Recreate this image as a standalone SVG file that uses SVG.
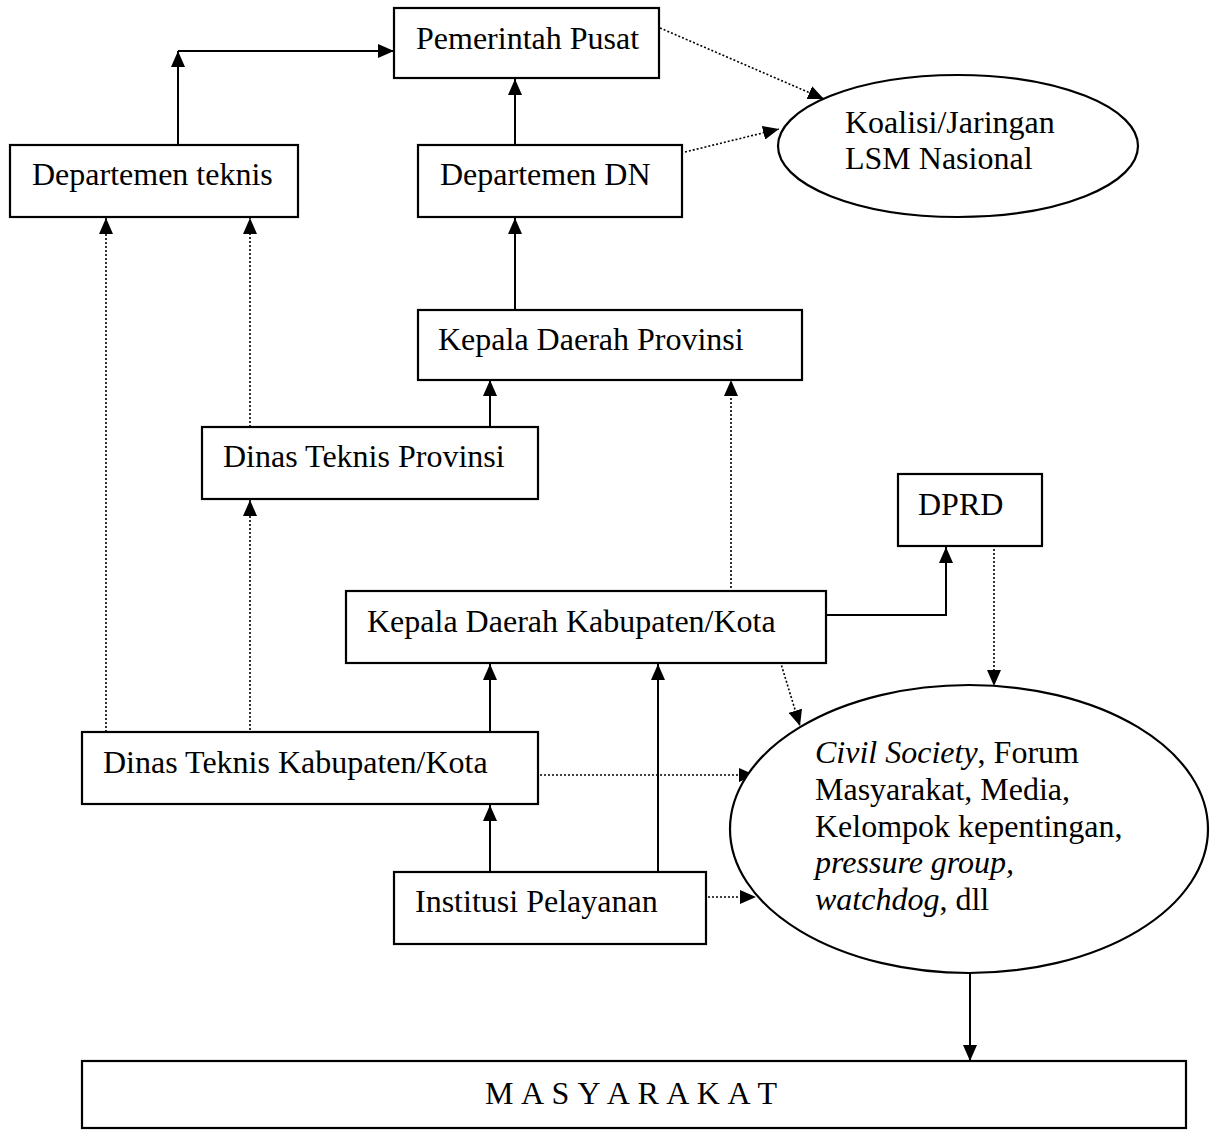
<svg xmlns="http://www.w3.org/2000/svg" width="1212" height="1133" viewBox="0 0 1212 1133">
<style>
  .box { fill: #fff; stroke: #000; stroke-width: 2.2; }
  .ell { fill: #fff; stroke: #000; stroke-width: 2.2; }
  .t { font-family: "Liberation Serif", "Times New Roman", serif; font-size: 32px; fill: #000; }
  .i { font-style: italic; }
  .solid { fill: none; stroke: #000; stroke-width: 2; marker-end: url(#ah); }
  .plain { fill: none; stroke: #000; stroke-width: 2; }
  .dot { fill: none; stroke: #000; stroke-width: 1.6; stroke-dasharray: 2 2; marker-end: url(#ah); }
</style>
<defs>
  <marker id="ah" viewBox="0 0 16 14" markerWidth="16" markerHeight="14" refX="16" refY="7" orient="auto" markerUnits="userSpaceOnUse">
    <path d="M0,0 L16,7 L0,14 z" fill="#000"/>
  </marker>
</defs>
<rect width="1212" height="1133" fill="#fff"/>

<g id="connectors">
  <path class="solid" d="M178,145 V51"/>
  <path class="solid" d="M178,51 H394"/>
  <path class="solid" d="M515,145 V79"/>
  <path class="solid" d="M515,310 V218"/>
  <path class="solid" d="M490,427 V380"/>
  <path class="dot" d="M731,596 V380"/>
  <path class="dot" d="M106,744 V218"/>
  <path class="dot" d="M250,427 V218"/>
  <path class="dot" d="M250,738 V500"/>
  <path class="solid" d="M490,732 V664"/>
  <path class="solid" d="M490,872 V805"/>
  <path class="solid" d="M658,877 V664"/>
  <path class="solid" d="M826,615 H946 V547"/>
  <path class="dot" d="M994,545 V686"/>
  <path class="dot" d="M778,654 L800,726"/>
  <path class="dot" d="M540,775 H755"/>
  <path class="dot" d="M708,897 H756"/>
  <path class="solid" d="M970,967 V1061"/>
  <path class="dot" d="M660,28 L824,99"/>
  <path class="dot" d="M685,152 L779,129"/>
</g>

<g id="pemerintah-pusat">
  <rect class="box" x="394" y="8" width="265" height="70"/>
  <text class="t" x="416" y="49">Pemerintah Pusat</text>
</g>
<g id="departemen-teknis">
  <rect class="box" x="10" y="145" width="288" height="72"/>
  <text class="t" x="32" y="185">Departemen teknis</text>
</g>
<g id="departemen-dn">
  <rect class="box" x="418" y="145" width="264" height="72"/>
  <text class="t" x="440" y="185">Departemen DN</text>
</g>
<g id="koalisi">
  <ellipse class="ell" cx="958" cy="146" rx="180" ry="71"/>
  <text class="t" x="845" y="133">Koalisi/Jaringan</text>
  <text class="t" x="845" y="169">LSM Nasional</text>
</g>
<g id="kepala-daerah-provinsi">
  <rect class="box" x="418" y="310" width="384" height="70"/>
  <text class="t" x="438" y="350">Kepala Daerah Provinsi</text>
</g>
<g id="dinas-teknis-provinsi">
  <rect class="box" x="202" y="427" width="336" height="72"/>
  <text class="t" x="223" y="467">Dinas Teknis Provinsi</text>
</g>
<g id="dprd">
  <rect class="box" x="898" y="474" width="144" height="72"/>
  <text class="t" x="918" y="515">DPRD</text>
</g>
<g id="kepala-daerah-kabupaten">
  <rect class="box" x="346" y="591" width="480" height="72"/>
  <text class="t" x="367" y="632">Kepala Daerah Kabupaten/Kota</text>
</g>
<g id="dinas-teknis-kabupaten">
  <rect class="box" x="82" y="732" width="456" height="72"/>
  <text class="t" x="103" y="773">Dinas Teknis Kabupaten/Kota</text>
</g>
<g id="institusi-pelayanan">
  <rect class="box" x="394" y="872" width="312" height="72"/>
  <text class="t" x="415" y="912">Institusi Pelayanan</text>
</g>
<g id="civil-society">
  <ellipse class="ell" cx="969" cy="829" rx="239" ry="144"/>
  <text class="t" x="815" y="763"><tspan class="i">Civil Society</tspan>, Forum</text>
  <text class="t" x="815" y="800">Masyarakat, Media,</text>
  <text class="t" x="815" y="837">Kelompok kepentingan,</text>
  <text class="t i" x="815" y="873">pressure group,</text>
  <text class="t" x="815" y="910"><tspan class="i">watchdog</tspan>, dll</text>
</g>
<g id="masyarakat">
  <rect class="box" x="82" y="1061" width="1104" height="67"/>
  <text class="t" x="485" y="1104" font-size="29" textLength="292" lengthAdjust="spacing">M A S Y A R A K A T</text>
</g>
</svg>
